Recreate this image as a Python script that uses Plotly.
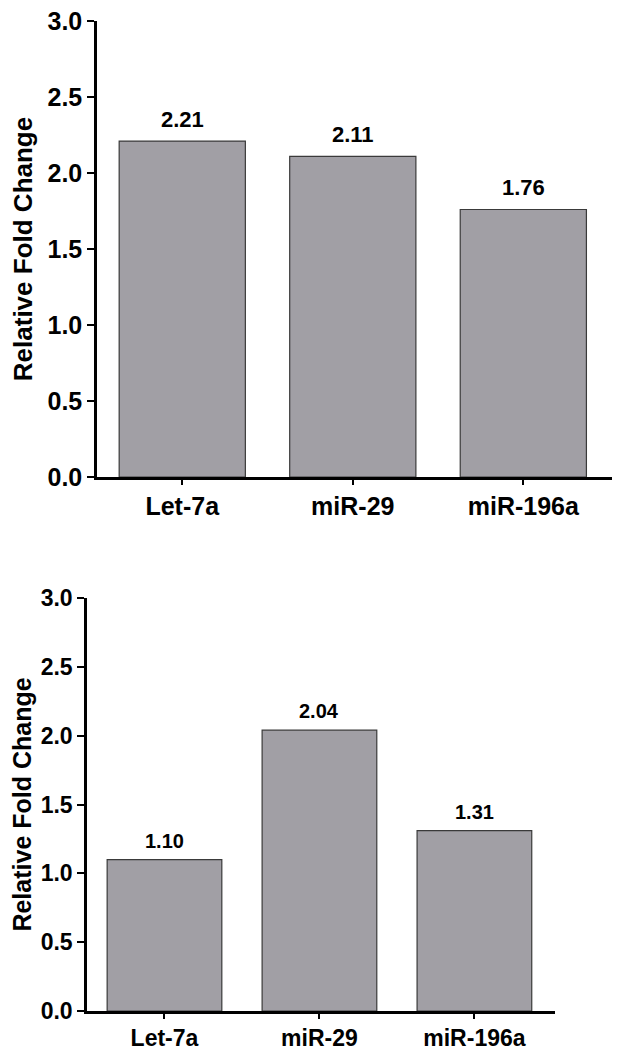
import plotly.graph_objects as go

categories = ["Let-7a", "miR-29", "miR-196a"]
top_values = [2.21, 2.11, 1.76]
bottom_values = [1.10, 2.04, 1.31]
top_labels = ["2.21", "2.11", "1.76"]
bottom_labels = ["1.10", "2.04", "1.31"]
y_ticks = [0.0, 0.5, 1.0, 1.5, 2.0, 2.5, 3.0]
y_ticktext = ["0.0", "0.5", "1.0", "1.5", "2.0", "2.5", "3.0"]

FONT = "Liberation Sans, Arial, sans-serif"
BAR_COLOR = "#a19fa5"
EDGE = "#3a3a3a"

# page body has an 8px margin, so the figure is sized/positioned to compensate
W, H, OFF = 616, 1042, 8

def xd(a, b):
    return [(a - OFF) / W, (b - OFF) / W]

def yd(top, bottom):
    return [1 - (bottom - OFF) / H, 1 - (top - OFF) / H]

fig = go.Figure()
fig.add_trace(go.Bar(x=categories, y=top_values, xaxis="x", yaxis="y",
                     marker=dict(color=BAR_COLOR, line=dict(color=EDGE, width=1.2)),
                     width=0.74, showlegend=False, hoverinfo="x+y"))
fig.add_trace(go.Bar(x=categories, y=bottom_values, xaxis="x2", yaxis="y2",
                     marker=dict(color=BAR_COLOR, line=dict(color=EDGE, width=1.2)),
                     width=0.74, showlegend=False, hoverinfo="x+y"))

annotations = []
for c, v, t in zip(categories, top_values, top_labels):
    annotations.append(dict(x=c, y=v, xref="x", yref="y", text=t, showarrow=False,
                            yanchor="bottom", yshift=7,
                            font=dict(family=FONT, size=22, color="black", weight="bold")))
for c, v, t in zip(categories, bottom_values, bottom_labels):
    annotations.append(dict(x=c, y=v, xref="x2", yref="y2", text=t, showarrow=False,
                            yanchor="bottom", yshift=6,
                            font=dict(family=FONT, size=20, color="black", weight="bold")))

def xaxis(domain, anchor, size):
    return dict(domain=domain, anchor=anchor, range=[-0.5, 2.52], showline=True,
                linecolor="black", linewidth=2.5, ticks="outside", ticklen=5,
                tickwidth=2, tickcolor="black", showgrid=False, zeroline=False,
                tickfont=dict(family=FONT, size=size, color="black", weight="bold"),
                ticklabeloverflow="allow", automargin=False, fixedrange=True)

def yaxis(domain, anchor, size, tsize, standoff):
    return dict(domain=domain, anchor=anchor, range=[0, 3.0], showline=True,
                linecolor="black", linewidth=2.5, ticks="outside", ticklen=7,
                tickwidth=2, tickcolor="black", showgrid=False, zeroline=False,
                tickvals=y_ticks, ticktext=y_ticktext,
                tickfont=dict(family=FONT, size=size, color="black", weight="bold"),
                title=dict(text="Relative Fold Change", standoff=standoff,
                           font=dict(family=FONT, size=tsize, color="black", weight="bold")),
                ticklabeloverflow="allow", automargin=False, fixedrange=True)

fig.update_layout(
    width=W, height=H,
    margin=dict(l=0, r=0, t=0, b=0),
    paper_bgcolor="white", plot_bgcolor="white",
    bargap=0.26,
    xaxis=xaxis(xd(97, 612), "y", 25),
    yaxis=yaxis(yd(21, 477), "x", 25, 26, 11),
    xaxis2=xaxis(xd(87, 555), "y2", 23),
    yaxis2=yaxis(yd(598, 1011), "x2", 23, 25, 12),
    annotations=annotations,
)

fig.write_html("out.html")
